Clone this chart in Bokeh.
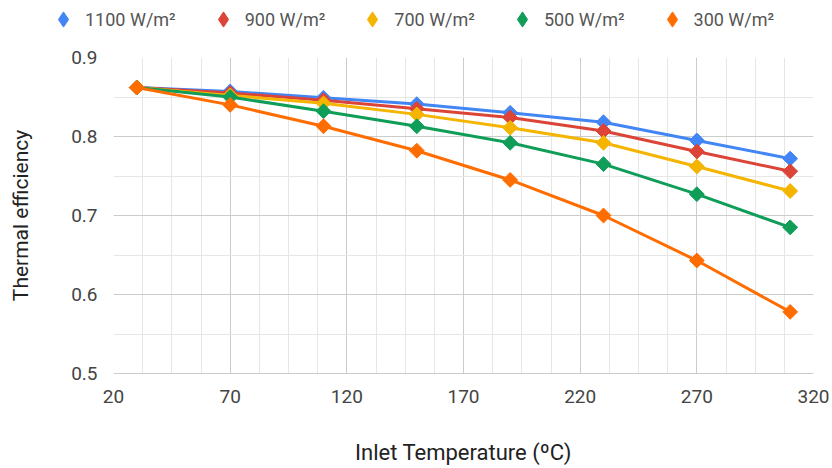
from bokeh.plotting import figure
from bokeh.models import FixedTicker, Legend, LegendItem, Range1d, ColumnDataSource
from bokeh.embed import file_html
from bokeh.resources import INLINE
import math

temps = [30, 70, 110, 150, 190, 230, 270, 310]
eff_1100 = [0.862, 0.857, 0.849, 0.841, 0.830, 0.818, 0.795, 0.772]
eff_900 = [0.862, 0.855, 0.846, 0.835, 0.824, 0.807, 0.781, 0.756]
eff_700 = [0.862, 0.852, 0.842, 0.828, 0.811, 0.792, 0.762, 0.731]
eff_500 = [0.862, 0.850, 0.832, 0.813, 0.792, 0.765, 0.727, 0.685]
eff_300 = [0.862, 0.840, 0.813, 0.782, 0.745, 0.700, 0.643, 0.578]
series_names = ["1100 W/m²", "900 W/m²", "700 W/m²", "500 W/m²", "300 W/m²"]
series_values = [eff_1100, eff_900, eff_700, eff_500, eff_300]
colors = ["#4285F4", "#DB4437", "#F4B400", "#0F9D58", "#FF6D01"]
x_ticks = [20, 70, 120, 170, 220, 270, 320]
y_ticks = [0.5, 0.6, 0.7, 0.8, 0.9]

FONT = "Roboto"
LEG_H = 42

p = figure(width=832, height=468 - LEG_H, output_backend="svg", toolbar_location=None,
           x_range=Range1d(20, 320), y_range=Range1d(0.5, 0.9),
           min_border_left=113, min_border_right=19, min_border_top=57 - LEG_H,
           min_border_bottom=95)
p.outline_line_color = None

p.xaxis.ticker = FixedTicker(ticks=x_ticks, minor_ticks=[20 + 12.5 * i for i in range(25)])
p.yaxis.ticker = FixedTicker(ticks=y_ticks, minor_ticks=[0.5 + 0.05 * i for i in range(9)])

for ax in (p.xaxis, p.yaxis):
    ax.axis_line_color = None
    ax.major_tick_line_color = None
    ax.minor_tick_line_color = None
    ax.major_label_text_font = FONT
    ax.major_label_text_font_size = "19px"
    ax.major_label_text_color = "#444444"
    ax.axis_label_text_font = FONT
    ax.axis_label_text_font_style = "normal"
    ax.axis_label_text_color = "#222222"

p.xaxis.axis_label = "Inlet Temperature (ºC)"
p.yaxis.axis_label = "Thermal efficiency"
p.xaxis.axis_label_text_font_size = "22px"
p.yaxis.axis_label_text_font_size = "21px"
p.xaxis.major_label_standoff = 10
p.yaxis.major_label_standoff = 10
p.xaxis.axis_label_standoff = 34
p.yaxis.axis_label_standoff = 35

for g in (p.xgrid, p.ygrid):
    g.grid_line_color = "#cccccc"
    g.grid_line_width = 1
    g.minor_grid_line_color = "#e6e6e6"
    g.minor_grid_line_width = 1

# darker baseline at 0.5
p.line(x=[20, 320], y=[0.5, 0.5], color="#999999", line_width=1)

for name, vals, c in zip(series_names, series_values, colors):
    p.line(temps, vals, color=c, line_width=3)
    p.scatter(temps, vals, marker="square", angle=math.pi / 4, size=10.5, color=c)

# legend strip above the chart
lg = figure(width=832, height=LEG_H, output_backend="svg", toolbar_location=None,
            x_range=Range1d(0, 1), y_range=Range1d(0, 1),
            min_border_left=0, min_border_right=0, min_border_top=0, min_border_bottom=0)
lg.outline_line_color = None
lg.xaxis.visible = False
lg.yaxis.visible = False
lg.xgrid.visible = False
lg.ygrid.visible = False

items = []
for name, c in zip(series_names, colors):
    src = ColumnDataSource(data=dict(x=[float("nan")], y=[float("nan")]))
    r = lg.scatter("x", "y", source=src, marker="diamond", size=20, color=c)
    items.append(LegendItem(label=name, renderers=[r]))

legend = Legend(items=items, orientation="horizontal", location=(44, 4),
                padding=0, margin=0, spacing=28, label_standoff=3,
                glyph_width=38, glyph_height=38,
                label_text_font=FONT, label_text_font_size="18px",
                label_text_color="#555555",
                border_line_color=None, background_fill_alpha=0)
lg.add_layout(legend, "center")

open("out.html", "w").write(file_html([lg, p], INLINE))
